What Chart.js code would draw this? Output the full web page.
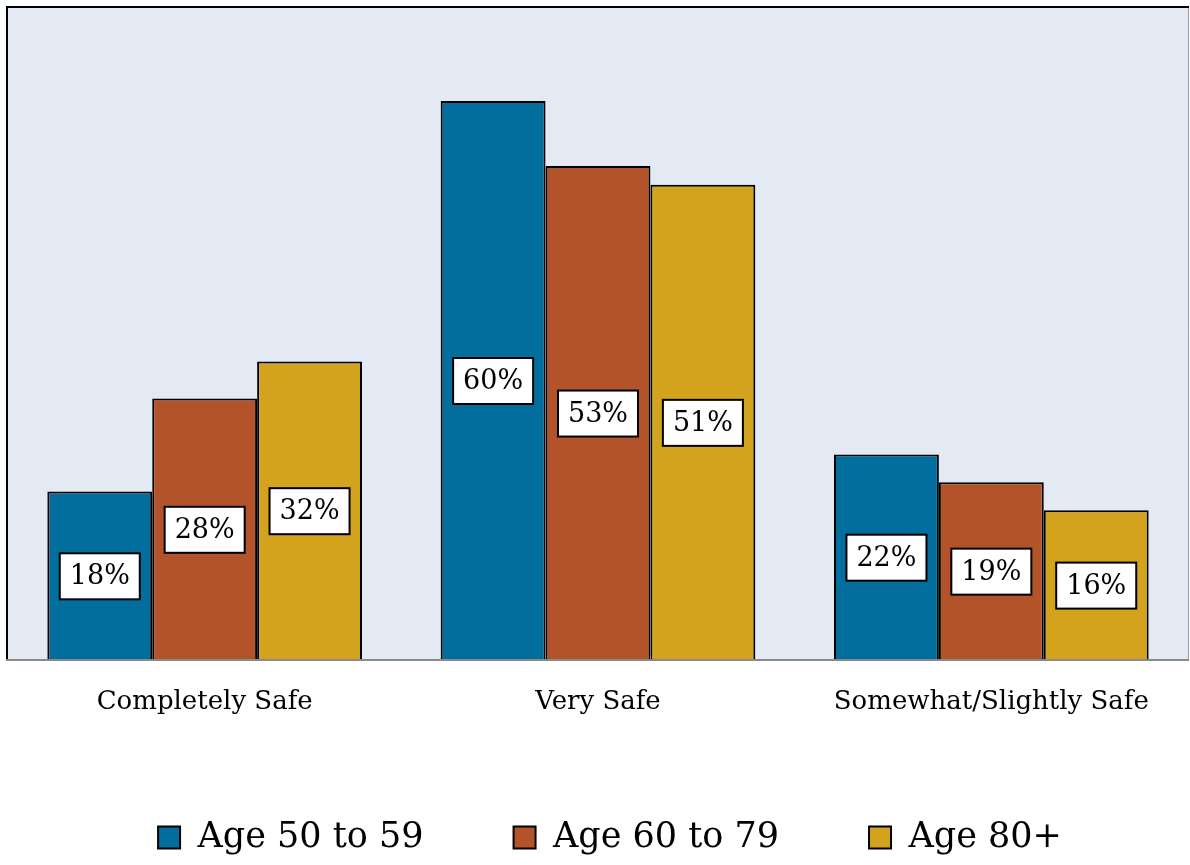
<!DOCTYPE html>
<html>
<head>
<meta charset="utf-8">
<script src="https://cdn.jsdelivr.net/npm/chart.js@4"></script>
<style>
  html, body { margin: 0; padding: 0; background: #fff; }
  #wrap { width: 1190px; height: 865px; }
</style>
</head>
<body>
<div id="wrap"><canvas id="safetyChart"></canvas></div>
<script>
const categories = ["Completely Safe", "Very Safe", "Somewhat/Slightly Safe"];
const seriesNames = ["Age 50 to 59", "Age 60 to 79", "Age 80+"];
const age50to59 = [18, 60, 22];
const age60to79 = [28, 53, 19];
const age80plus = [32, 51, 16];
const seriesColors = ["#026e9d", "#b3532a", "#d3a31e"];

const FONT = "'DejaVu Serif', serif";

// light blue plot background with the framed edges
const plotFrame = {
  id: "plotFrame",
  afterLayout(chart) {
    // nudge the legend a little to the right, like the original
    chart.legend.left += 24;
  },
  beforeDraw(chart) {
    const { ctx, chartArea: a } = chart;
    ctx.save();
    ctx.fillStyle = "#e3eaf4";
    ctx.fillRect(a.left, a.top, a.right - a.left, a.bottom - a.top);
    ctx.strokeStyle = "#999";
    ctx.lineWidth = 1;
    ctx.beginPath();
    ctx.moveTo(a.right + 0.5, a.top);
    ctx.lineTo(a.right + 0.5, a.bottom);
    ctx.stroke();
    ctx.strokeStyle = "#000";
    ctx.lineWidth = 2;
    ctx.beginPath();
    ctx.moveTo(a.left - 1, a.bottom);
    ctx.lineTo(a.left - 1, a.top - 1);
    ctx.lineTo(a.right + 1, a.top - 1);
    ctx.stroke();
    ctx.restore();
  },
  afterDatasetsDraw(chart) {
    const { ctx, chartArea: a } = chart;
    ctx.save();
    ctx.strokeStyle = "#8a8a8a";
    ctx.lineWidth = 2;
    ctx.beginPath();
    ctx.moveTo(a.left - 2, a.bottom + 1);
    ctx.lineTo(a.right + 1, a.bottom + 1);
    ctx.stroke();
    ctx.restore();
  }
};

// white boxed value labels in the middle of each bar
const boxLabels = {
  id: "boxLabels",
  afterDatasetsDraw(chart) {
    const { ctx } = chart;
    ctx.save();
    ctx.font = "27px " + FONT;
    ctx.textAlign = "center";
    ctx.textBaseline = "middle";
    chart.data.datasets.forEach((ds, i) => {
      chart.getDatasetMeta(i).data.forEach((bar, j) => {
        const text = ds.data[j] + "%";
        const w = ctx.measureText(text).width + 20;
        const h = 46;
        const cx = bar.x;
        const cy = (bar.y + bar.base) / 2 + 1;
        ctx.fillStyle = "#fff";
        ctx.fillRect(cx - w / 2, cy - h / 2, w, h);
        ctx.strokeStyle = "#000";
        ctx.lineWidth = 2;
        ctx.strokeRect(cx - w / 2, cy - h / 2, w, h);
        ctx.fillStyle = "#000";
        ctx.fillText(text, cx, cy + 1);
      });
    });
    ctx.restore();
  }
};

new Chart(document.getElementById("safetyChart"), {
  type: "bar",
  data: {
    labels: categories,
    datasets: [age50to59, age60to79, age80plus].map((values, i) => ({
      label: seriesNames[i],
      data: values,
      backgroundColor: seriesColors[i],
      borderColor: "#000",
      borderWidth: 2,
      categoryPercentage: 0.8,
      barPercentage: 1.0,
    })),
  },
  options: {
    responsive: true,
    maintainAspectRatio: false,
    animation: false,
    layout: { padding: { left: 8, right: 2, top: 8, bottom: 0 } },
    scales: {
      x: {
        grid: { display: false },
        border: { display: false },
        ticks: { color: "#000", font: { family: FONT, size: 26 }, padding: 20 },
        afterFit(scale) { scale.height = 71; },
      },
      y: {
        display: false,
        min: 0,
        max: 70,
      },
    },
    plugins: {
      tooltip: { enabled: false },
      legend: {
        position: "bottom",
        labels: {
          color: "#000",
          font: { family: FONT, size: 35, lineHeight: 1.0 },
          boxWidth: 22,
          boxHeight: 22,
          padding: 90,
        },
      },
    },
  },
  plugins: [plotFrame, boxLabels],
});
</script>
</body>
</html>
